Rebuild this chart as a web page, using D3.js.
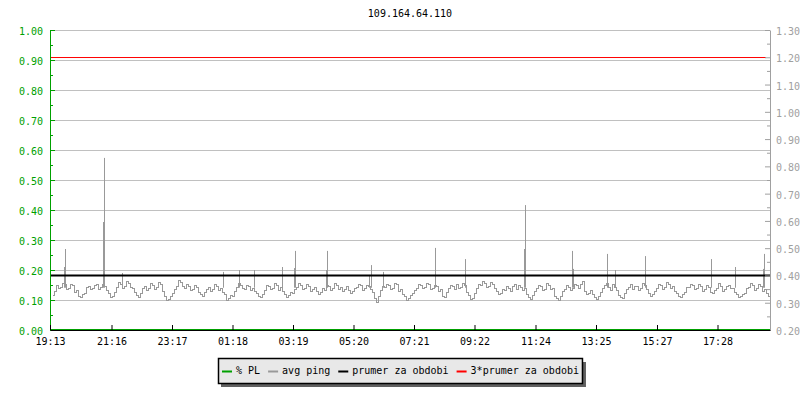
<!DOCTYPE html>
<html>
<head>
<meta charset="utf-8">
<script src="https://cdn.jsdelivr.net/npm/d3@7"></script>
<style>
  body { margin: 0; background: #fff; }
  svg { display: block; font-family: "DejaVu Sans Mono", monospace; }
</style>
</head>
<body>
<div id="chart"></div>
<script>
var width = 800;
var height = 400;

var title = "109.164.64.110";

// x axis: minutes since 19:13, labels as printed
var tickMinutes = [0, 123, 244, 365, 486, 607, 728, 849, 971, 1092, 1214, 1335];
var tickLabels = ["19:13", "21:16", "23:17", "01:18", "03:19", "05:20", "07:21", "09:22", "11:24", "13:25", "15:27", "17:28"];

// avg ping (right axis), one sample every 4 minutes starting at minute 4
var pingValues = [
  0.328,0.343, 0.365,0.354, 0.358,0.372, 0.369,0.350, 0.354,0.369, 0.365,0.339, 0.347,0.325, 0.321,0.332, 0.336,0.358, 0.361,0.350,
  0.354,0.365, 0.369,0.350, 0.358,0.369, 0.361,0.347, 0.336,0.321, 0.325,0.339, 0.358,0.376, 0.369,0.354, 0.361,0.380, 0.372,0.358,
  0.354,0.339, 0.328,0.321, 0.336,0.354, 0.361,0.347, 0.354,0.372, 0.365,0.350, 0.358,0.376, 0.369,0.343, 0.325,0.310, 0.314,0.325,
  0.336,0.350, 0.361,0.383, 0.376,0.361, 0.354,0.369, 0.361,0.347, 0.350,0.365, 0.358,0.339, 0.332,0.325, 0.339,0.350, 0.358,0.343,
  0.350,0.369, 0.361,0.347, 0.354,0.339, 0.332,0.310, 0.317,0.328, 0.325,0.343, 0.358,0.372, 0.365,0.354, 0.350,0.365, 0.361,0.347,
  0.354,0.343, 0.336,0.325, 0.321,0.332, 0.347,0.365, 0.361,0.350, 0.354,0.372, 0.365,0.347, 0.358,0.343, 0.332,0.321, 0.328,0.339,
  0.336,0.350, 0.358,0.372, 0.365,0.350, 0.354,0.369, 0.361,0.343, 0.350,0.358, 0.343,0.332, 0.339,0.354, 0.347,0.365, 0.361,0.347,
  0.354,0.372, 0.365,0.350, 0.358,0.343, 0.350,0.361, 0.347,0.336, 0.343,0.354, 0.358,0.369, 0.365,0.347, 0.354,0.365, 0.361,0.350,
  0.339,0.317, 0.303,0.325, 0.347,0.361, 0.358,0.369, 0.365,0.350, 0.354,0.372, 0.369,0.343, 0.350,0.332, 0.325,0.310, 0.317,0.328,
  0.336,0.347, 0.354,0.369, 0.365,0.354, 0.358,0.372, 0.369,0.350, 0.354,0.365, 0.361,0.343, 0.350,0.325, 0.321,0.339, 0.354,0.365,
  0.361,0.350, 0.369,0.354, 0.358,0.372, 0.365,0.339, 0.328,0.314, 0.317,0.336, 0.354,0.369, 0.365,0.380, 0.372,0.358, 0.361,0.376,
  0.369,0.354, 0.343,0.332, 0.336,0.350, 0.347,0.361, 0.354,0.343, 0.361,0.369, 0.350,0.365, 0.358,0.347, 0.354,0.332, 0.321,0.314,
  0.328,0.343, 0.354,0.365, 0.361,0.347, 0.350,0.372, 0.365,0.350, 0.354,0.325, 0.317,0.310, 0.325,0.343, 0.350,0.365, 0.358,0.347,
  0.354,0.369, 0.365,0.354, 0.369,0.380, 0.343,0.332, 0.336,0.347, 0.332,0.321, 0.314,0.325, 0.339,0.354, 0.365,0.372, 0.358,0.347,
  0.369,0.358, 0.347,0.328, 0.321,0.317, 0.336,0.350, 0.358,0.369, 0.350,0.361, 0.361,0.347, 0.354,0.372, 0.365,0.350, 0.336,0.325,
  0.332,0.343, 0.354,0.369, 0.365,0.350, 0.358,0.376, 0.369,0.354, 0.361,0.343, 0.336,0.325, 0.321,0.332, 0.339,0.358, 0.358,0.369,
  0.365,0.350, 0.354,0.369, 0.361,0.343, 0.350,0.365, 0.358,0.339, 0.336,0.347, 0.354,0.372, 0.361,0.343, 0.350,0.361, 0.365,0.354,
  0.354,0.339, 0.332,0.321, 0.325,0.332, 0.336,0.354, 0.358,0.372, 0.365,0.347, 0.354,0.369, 0.361,0.343, 0.350,0.336, 0.325,0.343
];
var pingStart = 4;
var pingStep = 4;

// short spikes in avg ping: [minute, value]
var pingSpikes = [
  [28, 0.431], [30, 0.497], [106, 0.596], [108, 0.831], [144, 0.409],
  [346, 0.413], [378, 0.420], [408, 0.420], [464, 0.431], [488, 0.427],
  [490, 0.490], [552, 0.420], [554, 0.490], [638, 0.402], [642, 0.438],
  [666, 0.413], [770, 0.501], [830, 0.460], [948, 0.497], [950, 0.658],
  [1044, 0.490], [1046, 0.424], [1114, 0.479], [1130, 0.420], [1190, 0.471],
  [1322, 0.460], [1370, 0.431], [1426, 0.424], [1428, 0.479]
];

// % packet loss (left axis) - zero for whole period
var plMinutes = [0, 1440];
var plValues = [0, 0];

var meanPing = 0.3997;

var legendNames = ["% PL", "avg ping", "prumer za obdobi", "3*prumer za obdobi"];
var legendColors = ["#00a000", "#999999", "#000000", "#ff0000"];

var plot = {left: 50, right: 770, top: 30, bottom: 330};

var svg = d3.select("#chart")
    .append("svg")
    .attr("width", width)
    .attr("height", height);

var x = d3.scaleLinear().domain([0, 1440]).range([plot.left, plot.right]);
var yLeft = d3.scaleLinear().domain([0, 1]).range([plot.bottom, plot.top]);
var yRight = d3.scaleLinear().domain([0.2, 1.3]).range([plot.bottom, plot.top]);

// grid
svg.append("g")
    .selectAll("line")
    .data(d3.range(1, 11).map(function (d) { return d / 10; }))
    .enter().append("line")
    .attr("x1", plot.left)
    .attr("x2", plot.right)
    .attr("y1", function (d) { return Math.round(yLeft(d)) + 0.5; })
    .attr("y2", function (d) { return Math.round(yLeft(d)) + 0.5; })
    .attr("stroke", "#c0c0c0")
    .attr("stroke-width", 1);

// % PL line
svg.append("path")
    .datum(plMinutes.map(function (m, i) { return [m, plValues[i]]; }))
    .attr("fill", "none")
    .attr("stroke", legendColors[0])
    .attr("stroke-width", 1)
    .attr("d", d3.line()
        .x(function (d) { return x(d[0]); })
        .y(function (d) { return yLeft(d[1]) - 0.5; }));

// avg ping
var pingData = pingValues.map(function (v, i) { return [pingStart + i * pingStep, v]; });

svg.append("path")
    .datum(pingData)
    .attr("fill", "none")
    .attr("stroke", legendColors[1])
    .attr("stroke-width", 1)
    .attr("shape-rendering", "crispEdges")
    .attr("d", d3.line()
        .curve(d3.curveStepAfter)
        .x(function (d) { return Math.round(x(d[0])) + 0.5; })
        .y(function (d) { return Math.round(yRight(d[1])) + 0.5; }));

svg.append("g")
    .selectAll("line")
    .data(pingSpikes)
    .enter().append("line")
    .attr("x1", function (d) { return Math.round(x(d[0])) + 0.5; })
    .attr("x2", function (d) { return Math.round(x(d[0])) + 0.5; })
    .attr("y1", yRight(0.355))
    .attr("y2", function (d) { return yRight(d[1]); })
    .attr("stroke", legendColors[1])
    .attr("stroke-width", 1);

// mean lines
svg.append("line")
    .attr("x1", plot.left).attr("x2", plot.right)
    .attr("y1", yRight(meanPing)).attr("y2", yRight(meanPing))
    .attr("stroke", legendColors[2])
    .attr("stroke-width", 2);

svg.append("line")
    .attr("x1", plot.left).attr("x2", plot.right - 4)
    .attr("y1", yRight(3 * meanPing)).attr("y2", yRight(3 * meanPing))
    .attr("stroke", legendColors[3])
    .attr("stroke-width", 1);

// left axis
var leftTicks = d3.range(0, 11).map(function (d) { return d / 10; });
var leftMinor = d3.range(0, 10).map(function (d) { return d / 10 + 0.05; });

var gLeft = svg.append("g")
    .attr("transform", "translate(" + plot.left + ",0)")
    .call(d3.axisLeft(yLeft).tickValues(leftTicks).tickFormat(d3.format(".2f"))
        .tickSizeInner(-5).tickSizeOuter(0).tickPadding(7));
svg.append("g")
    .attr("transform", "translate(" + plot.left + ",0)")
    .call(d3.axisLeft(yLeft).tickValues(leftMinor).tickFormat("")
        .tickSizeInner(-3).tickSizeOuter(0))
    .call(function (g) { g.select(".domain").remove(); })
    .selectAll("line").attr("stroke", legendColors[0]);
gLeft.select(".domain").attr("stroke", legendColors[0]);
gLeft.selectAll(".tick line").attr("stroke", legendColors[0]);
gLeft.selectAll("text")
    .attr("fill", legendColors[0])
    .attr("dy", "0.45em");

// right axis
var rightTicks = d3.range(2, 14).map(function (d) { return d / 10; });
var rightMinor = d3.range(2, 13).map(function (d) { return d / 10 + 0.05; });

var gRight = svg.append("g")
    .attr("transform", "translate(" + plot.right + ",0)")
    .call(d3.axisRight(yRight).tickValues(rightTicks).tickFormat(d3.format(".2f"))
        .tickSizeInner(-5).tickSizeOuter(0).tickPadding(6));
svg.append("g")
    .attr("transform", "translate(" + plot.right + ",0)")
    .call(d3.axisRight(yRight).tickValues(rightMinor).tickFormat("")
        .tickSizeInner(-3).tickSizeOuter(0))
    .call(function (g) { g.select(".domain").remove(); })
    .selectAll("line").attr("stroke", "#a0a0a0");
gRight.select(".domain").attr("stroke", "#a0a0a0");
gRight.selectAll(".tick line").attr("stroke", "#a0a0a0");
gRight.selectAll("text")
    .attr("fill", "#a0a0a0")
    .attr("dy", "0.45em");

// x axis
var gX = svg.append("g")
    .attr("transform", "translate(0," + plot.bottom + ")")
    .call(d3.axisBottom(x).tickValues(tickMinutes)
        .tickFormat(function (d, i) { return tickLabels[i]; })
        .tickSizeInner(-5).tickSizeOuter(0).tickPadding(8));
gX.selectAll("text").attr("fill", "#000");

svg.selectAll("g").attr("font-family", "DejaVu Sans Mono, monospace").attr("font-size", 10);

// title
svg.append("text")
    .attr("x", (plot.left + plot.right) / 2)
    .attr("y", 17)
    .attr("text-anchor", "middle")
    .attr("font-size", 10)
    .attr("fill", "#000")
    .text(title);

// legend
var legend = svg.append("g").attr("font-size", 10);
var items = legend.selectAll("g.item")
    .data(legendNames)
    .enter().append("g").attr("class", "item");
items.append("text")
    .attr("y", 374)
    .attr("fill", "#000")
    .text(function (d) { return d; });

var pos = 0;
var offsets = [];
items.each(function (d, i) {
    var w = this.querySelector("text").getComputedTextLength();
    offsets.push(pos);
    pos += 14 + w + 8;
});
var legendLeft = 218;
var legendRight = Math.max(legendLeft + pos, 580);

legend.insert("rect", "g")
    .attr("x", legendLeft + 3).attr("y", 362)
    .attr("width", legendRight - legendLeft).attr("height", 25)
    .attr("fill", "#606060");
legend.insert("rect", "g")
    .attr("x", legendLeft + 0.5).attr("y", 358.5)
    .attr("width", legendRight - legendLeft - 1).attr("height", 25)
    .attr("fill", "#e8e8e8")
    .attr("stroke", "#000")
    .attr("stroke-width", 1.5);

items.attr("transform", function (d, i) { return "translate(" + (legendLeft + 4 + offsets[i]) + ",0)"; });
items.append("rect")
    .attr("x", 0).attr("y", 370.5)
    .attr("width", 10).attr("height", 2)
    .attr("fill", function (d, i) { return legendColors[i]; });
items.select("text").attr("x", 14);
</script>
</body>
</html>
